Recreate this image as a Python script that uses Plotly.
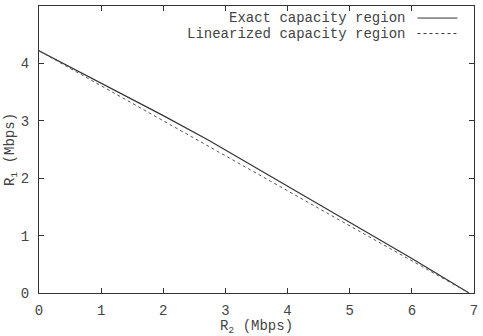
import plotly.graph_objects as go

# Data
exact_r2 = [0.0, 1.0, 2.0, 2.73, 4.0, 5.0, 6.0, 6.92]
exact_r1 = [4.22, 3.66, 3.09, 2.66, 1.86, 1.23, 0.60, 0.0]
lin_r2 = [0.0, 6.92]
lin_r1 = [4.22, 0.0]
series_names = ["Exact capacity region", "Linearized capacity region"]
x_ticks = [0, 1, 2, 3, 4, 5, 6, 7]
y_ticks = [0, 1, 2, 3, 4, 5]

FONT = "Liberation Mono"
FS = 14
fig = go.Figure()
fig.add_trace(go.Scatter(x=exact_r2, y=exact_r1, mode="lines", name=series_names[0],
                         line=dict(color="#333333", width=1.2), showlegend=False))
fig.add_trace(go.Scatter(x=lin_r2, y=lin_r1, mode="lines", name=series_names[1],
                         line=dict(color="#555555", width=1, dash="dot"), showlegend=False))

axis_common = dict(showgrid=False, zeroline=False, ticks="inside", ticklen=5,
                   tickcolor="#333", mirror="ticks", showline=True, linecolor="#333",
                   linewidth=1.2, tickfont=dict(family=FONT, size=FS, color="#444"))
fig.update_xaxes(range=[0, 7], tickvals=x_ticks, **axis_common, ticklabelstandoff=4,
                 title=dict(text="R<sub>2</sub> (Mbps)", font=dict(family=FONT, size=FS, color="#444"), standoff=2))
fig.update_yaxes(range=[0, 5], tickvals=y_ticks, **axis_common, ticklabelstandoff=6,
                 title=dict(text="R<sub>1</sub> (Mbps)", font=dict(family=FONT, size=FS, color="#444"), standoff=2))

# legend (gnuplot style: text then sample)
for i, (name, dash) in enumerate(zip(series_names, ["solid", "dot"])):
    yv = 0.958 - i * 0.054
    fig.add_annotation(x=0.847, y=yv, xref="paper", yref="paper", text=name, showarrow=False,
                       xanchor="right", yanchor="middle", font=dict(family=FONT, size=FS, color="#444"))
    fig.add_shape(type="line", xref="paper", yref="paper", x0=0.87, x1=0.962, y0=yv, y1=yv,
                  line=dict(color="#333", width=1, dash=dash))

fig.update_layout(width=483, height=336, margin=dict(l=39, r=6, t=5, b=43),
                  plot_bgcolor="white", paper_bgcolor="white")
fig.write_html("out.html")
